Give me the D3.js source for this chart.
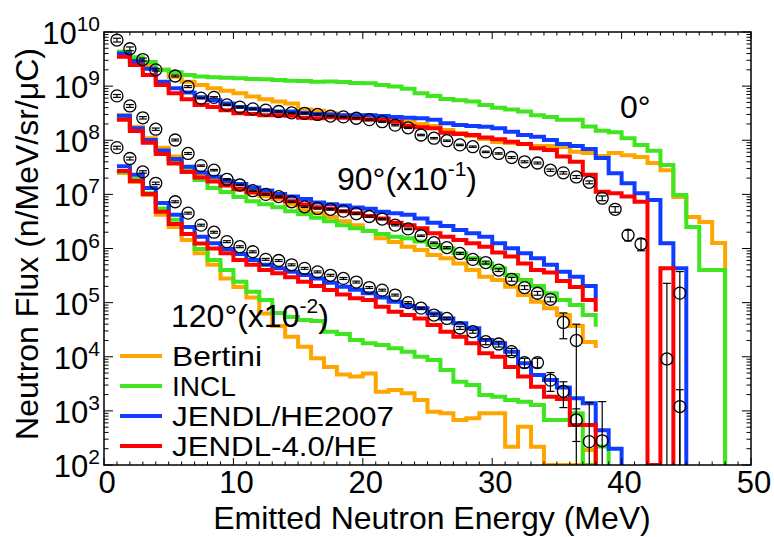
<!DOCTYPE html>
<html>
<head>
<meta charset="utf-8">
<script src="https://cdn.jsdelivr.net/npm/d3@7"></script>
<style>
  body { margin: 0; background: #fff; }
  text { font-family: "Liberation Sans", Arial, Helvetica, sans-serif; fill: #000; }
</style>
</head>
<body>
<div id="chart"></div>
<script>
// simulated spectra, 1 MeV bins starting at 1 MeV (last entry = level the line drops to)
var binStart = 1;

// 0 deg
var bertini0 = [4.3e9, 3.0e9, 2.45e9, 2.0e9, 1.49e9, 1.21e9, 1.05e9, 9.1e8, 8.2e8, 7.4e8, 6.4e8, 5.7e8, 5.2e8, 4.8e8, 3.7e8, 3.5e8, 3.15e8, 2.9e8, 2.8e8, 2.8e8, 2.7e8, 2.6e8, 2.2e8, 2.0e8, 1.83e8, 1.55e8, 1.36e8, 1.20e8, 1.05e8, 9.3e7, 8.9e7, 8.5e7, 7.8e7, 7.8e7, 7.5e7, 6.1e7, 5.8e7, 5.1e7, 5.8e7, 5.3e7, 4.9e7, 3.8e7, 2.8e7, 8.9e6, 3.8e6, 3.1e6, 1.26e6, 0];
var incl0 = [4.3e9, 3.4e9, 2.8e9, 2.0e9, 1.8e9, 1.6e9, 1.5e9, 1.46e9, 1.43e9, 1.40e9, 1.36e9, 1.34e9, 1.30e9, 1.26e9, 1.24e9, 1.21e9, 1.22e9, 1.19e9, 1.14e9, 1.13e9, 1.05e9, 9.8e8, 8.9e8, 7.4e8, 6.6e8, 5.8e8, 5.5e8, 5.2e8, 4.5e8, 4.0e8, 3.7e8, 3.4e8, 2.9e8, 2.7e8, 2.4e8, 2.4e8, 1.8e8, 1.5e8, 1.4e8, 1.09e8, 8.2e7, 6.4e7, 3.5e7, 9.7e6, 2.5e6, 4.0e5, 4.0e5, 0];
var jendlHE0 = [4.0e9, 2.9e9, 2.1e9, 1.21e9, 9.1e8, 7.6e8, 6.2e8, 5.5e8, 4.8e8, 4.1e8, 3.8e8, 3.6e8, 3.4e8, 3.4e8, 3.2e8, 3.05e8, 3.0e8, 2.9e8, 2.9e8, 2.9e8, 2.8e8, 2.7e8, 2.6e8, 2.55e8, 2.4e8, 2.06e8, 1.91e8, 1.83e8, 1.78e8, 1.66e8, 1.44e8, 1.25e8, 1.16e8, 1.01e8, 8.5e7, 7.8e7, 6.9e7, 4.7e7, 2.45e7, 1.60e7, 1.05e7, 7.9e6, 1.25e6, 4.3e5, 0];
var jendl40_0 = [3.5e9, 2.45e9, 1.61e9, 1.05e9, 7.4e8, 5.7e8, 4.5e8, 4.1e8, 3.6e8, 3.15e8, 3.05e8, 2.9e8, 2.9e8, 2.84e8, 2.6e8, 2.55e8, 2.65e8, 2.6e8, 2.55e8, 2.4e8, 2.37e8, 2.2e8, 1.83e8, 1.73e8, 1.66e8, 1.38e8, 1.30e8, 1.25e8, 1.13e8, 1.04e8, 9.4e7, 8.5e7, 7.1e7, 6.6e7, 5.0e7, 4.0e7, 2.3e7, 1.12e7, 1.05e7, 9.1e6, 7.3e6, 0, 4.3e5, 0];

// 90 deg (x 0.1)
var bertini90 = [2.9e8, 1.76e8, 1.09e8, 7.3e7, 5.0e7, 3.2e7, 2.3e7, 1.90e7, 1.55e7, 1.20e7, 1.06e7, 9.3e6, 8.2e6, 6.6e6, 5.1e6, 4.5e6, 3.8e6, 3.2e6, 2.7e6, 2.1e6, 1.54e6, 1.32e6, 1.08e6, 9.4e5, 7.6e5, 6.6e5, 5.3e5, 4.0e5, 3.0e5, 2.62e5, 1.97e5, 1.38e5, 1.04e5, 7.9e4, 5.9e4, 3.7e4, 1.87e4, 1.45e4];
var incl90 = [2.58e8, 1.55e8, 9.7e7, 6.1e7, 3.96e7, 2.7e7, 1.84e7, 1.31e7, 1.11e7, 8.9e6, 7.5e6, 6.6e6, 5.8e6, 4.9e6, 4.3e6, 3.7e6, 3.2e6, 2.7e6, 2.36e6, 2.1e6, 1.85e6, 1.65e6, 1.54e6, 1.34e6, 1.16e6, 1.01e6, 8.2e5, 6.6e5, 5.3e5, 4.3e5, 3.24e5, 2.62e5, 2.03e5, 1.49e5, 1.12e5, 9.0e4, 5.9e4, 3.6e4];
var jendlHE90 = [2.84e8, 1.66e8, 1.01e8, 6.5e7, 4.5e7, 3.25e7, 2.54e7, 2.12e7, 1.77e7, 1.55e7, 1.34e7, 1.18e7, 1.02e7, 9.1e6, 8.2e6, 7.1e6, 6.6e6, 6.2e6, 5.7e6, 5.4e6, 4.8e6, 4.5e6, 4.2e6, 3.6e6, 3.0e6, 2.6e6, 2.2e6, 1.91e6, 1.65e6, 1.25e6, 1.01e6, 8.2e5, 6.6e5, 5.0e5, 3.7e5, 3.0e5, 2.03e5, 1.20e5];
var jendl40_90 = [2.4e8, 1.48e8, 9.0e7, 5.6e7, 3.7e7, 2.59e7, 2.05e7, 1.73e7, 1.46e7, 1.26e7, 1.10e7, 1.02e7, 8.9e6, 7.5e6, 6.5e6, 5.8e6, 5.4e6, 4.9e6, 4.5e6, 4.0e6, 3.6e6, 3.0e6, 2.7e6, 2.36e6, 1.91e6, 1.65e6, 1.44e6, 1.25e6, 1.08e6, 8.4e5, 7.1e5, 5.3e5, 4.0e5, 3.6e5, 2.5e5, 1.94e5, 1.12e5, 6.8e4];

// 120 deg (x 0.01)
var bertini120 = [2.48e7, 1.69e7, 9.7e6, 4.2e6, 2.5e6, 1.44e6, 8.2e5, 5.0e5, 2.8e5, 1.94e5, 1.25e5, 6.3e4, 3.7e4, 2.35e4, 1.53e4, 9.4e3, 6.5e3, 4.7e3, 4.3e3, 4.9e3, 2.26e3, 2.43e3, 2.11e3, 1.59e3, 965, 900, 680, 730, 900, 900, 218, 510, 218, 0, 0, 0, 190, 0];
var incl120 = [2.59e7, 1.92e7, 1.05e7, 5.5e6, 3.4e6, 1.85e6, 9.8e5, 6.1e5, 4.0e5, 2.44e5, 1.59e5, 1.12e5, 6.4e4, 5.4e4, 4.8e4, 4.6e4, 2.9e4, 2.63e4, 2.04e4, 1.77e4, 1.65e4, 1.43e4, 1.24e4, 1.0e4, 8.7e3, 5.7e3, 3.46e3, 3.0e3, 1.96e3, 1.83e3, 1.59e3, 1.48e3, 1.28e3, 680, 680, 900, 0, 220, 0];
var jendlHE120 = [3.3e7, 2.3e7, 1.31e7, 6.9e6, 4.2e6, 2.5e6, 1.65e6, 1.25e6, 9.8e5, 7.9e5, 6.1e5, 5.0e5, 4.3e5, 3.7e5, 3.24e5, 2.8e5, 2.33e5, 1.97e5, 1.73e5, 1.49e5, 1.25e5, 1.04e5, 8.7e4, 7.9e4, 6.3e4, 5.1e4, 4.15e4, 3.35e4, 2.04e4, 1.77e4, 1.24e4, 7.6e3, 4.6e3, 3.7e3, 2.7e3, 1.71e3, 1.38e3, 440, 200, 0];
var jendl40_120 = [2.7e7, 1.77e7, 1.02e7, 4.8e6, 2.84e6, 1.85e6, 1.24e6, 1.0e6, 8.2e5, 6.1e5, 5.0e5, 4.0e5, 3.5e5, 2.94e5, 2.44e5, 2.03e5, 1.71e5, 1.41e5, 1.20e5, 1.12e5, 8.4e4, 6.8e4, 5.9e4, 5.1e4, 3.86e4, 2.9e4, 2.35e4, 1.77e4, 1.16e4, 1.0e4, 6.5e3, 4.3e3, 2.8e3, 1.83e3, 1.66e3, 550, 550, 0];

// measured points (energy, flux, relative error)
var expE0 = [1, 2, 3, 4, 5.5, 6.5, 7.5, 8.5, 9.5, 10.5, 11.5, 12.5, 13.5, 14.5, 15.5, 16.5, 17.5, 18.5, 19.5, 20.5, 21.5, 22.5, 23.5, 24.5, 25.5, 26.5, 27.5, 28.5, 29.5, 30.5, 31.5, 32.5, 33.5, 34.5, 35.5, 36.5, 37.5, 38.5, 39.5, 40.5, 41.5, 43.5, 44.5];
var expFlux0 = [7.1e9, 4.9e9, 3.1e9, 2.0e9, 1.54e9, 9.8e8, 6.0e8, 6.2e8, 4.5e8, 4.1e8, 3.8e8, 3.6e8, 3.4e8, 3.2e8, 3.15e8, 3.0e8, 2.8e8, 2.7e8, 2.55e8, 2.4e8, 2.2e8, 1.9e8, 1.7e8, 1.25e8, 1.09e8, 9.8e7, 8.2e7, 7.6e7, 6.1e7, 5.7e7, 4.8e7, 4.0e7, 3.8e7, 2.8e7, 2.5e7, 2.1e7, 1.67e7, 8.5e6, 5.3e6, 1.77e6, 1.21e6, 9.1e3, 1.5e5];
var expErr0 = [0.08, 0.08, 0.06, 0.05, 0.04, 0.04, 0.03, 0.03, 0.03, 0.03, 0.03, 0.03, 0.03, 0.03, 0.03, 0.03, 0.03, 0.03, 0.03, 0.03, 0.03, 0.03, 0.03, 0.03, 0.03, 0.03, 0.03, 0.03, 0.03, 0.03, 0.04, 0.04, 0.04, 0.05, 0.05, 0.06, 0.06, 0.1, 0.12, 0.22, 0.25, 24, 1.5];

var expE90 = [1, 2, 3, 4, 5.5, 6.5, 7.5, 8.5, 9.5, 10.5, 11.5, 12.5, 13.5, 14.5, 15.5, 16.5, 17.5, 18.5, 19.5, 20.5, 21.5, 22.5, 23.5, 24.5, 25.5, 26.5, 27.5, 28.5, 29.5, 30.5, 31.5, 32.5, 33.5, 34.5, 35.5, 36.5, 44.5];
var expFlux90 = [6.6e8, 4.3e8, 2.6e8, 1.6e8, 1.01e8, 5.7e7, 3.4e7, 2.8e7, 1.9e7, 1.49e7, 1.17e7, 1.0e7, 9.1e6, 7.3e6, 5.9e6, 5.5e6, 5.3e6, 4.9e6, 4.4e6, 3.9e6, 3.5e6, 2.7e6, 2.3e6, 1.72e6, 1.28e6, 1.04e6, 8.1e5, 6.3e5, 5.5e5, 4.0e5, 2.7e5, 1.9e5, 1.49e5, 1.15e5, 4.3e4, 2.0e4, 1.2e3];
var expErr90 = [0.06, 0.06, 0.05, 0.05, 0.04, 0.04, 0.03, 0.03, 0.03, 0.03, 0.03, 0.03, 0.03, 0.03, 0.03, 0.03, 0.03, 0.03, 0.03, 0.03, 0.03, 0.03, 0.03, 0.03, 0.03, 0.04, 0.04, 0.04, 0.06, 0.06, 0.08, 0.08, 0.08, 0.1, 0.5, 1.0, 1.05];

var expE120 = [1, 2, 3, 4, 5.5, 6.5, 7.5, 8.5, 9.5, 10.5, 11.5, 12.5, 13.5, 14.5, 15.5, 16.5, 17.5, 18.5, 19.5, 20.5, 21.5, 22.5, 23.5, 24.5, 25.5, 26.5, 27.5, 28.5, 29.5, 30.5, 31.5, 32.5, 33.5, 34.5, 35.5, 36.5, 37.5, 38.5];
var expFlux120 = [7.3e7, 4.6e7, 2.6e7, 1.6e7, 7.3e6, 4.5e6, 2.7e6, 2.0e6, 1.34e6, 1.08e6, 8.7e5, 6.3e5, 6.0e5, 5.0e5, 4.3e5, 3.7e5, 3.2e5, 2.8e5, 2.4e5, 1.9e5, 1.7e5, 1.38e5, 1.0e5, 7.9e4, 5.9e4, 5.1e4, 3.4e4, 2.9e4, 1.9e4, 1.72e4, 1.24e4, 7.8e3, 7.8e3, 3.7e3, 2.3e3, 680, 270, 280];
var expErr120 = [0.06, 0.06, 0.05, 0.05, 0.04, 0.04, 0.04, 0.04, 0.04, 0.04, 0.04, 0.04, 0.04, 0.04, 0.04, 0.04, 0.04, 0.04, 0.04, 0.04, 0.04, 0.04, 0.04, 0.04, 0.05, 0.05, 0.06, 0.06, 0.12, 0.12, 0.15, 0.2, 0.2, 0.38, 0.5, 0.6, 4.3, 4.3];

var models = ["Bertini", "INCL", "JENDL/HE2007", "JENDL-4.0/HE"];
var colors = ["#ffa500", "#3fe620", "#0f3cff", "#ff0000"];
var xTicks = [0, 10, 20, 30, 40, 50];
var yExponents = [2, 3, 4, 5, 6, 7, 8, 9, 10];

var width = 774, height = 537;
var plotL = 104, plotR = 751, plotT = 32, plotB = 465;

var svg = d3.select("#chart").append("svg")
  .attr("width", width)
  .attr("height", height);

var xScale = d3.scaleLinear().domain([0, 50]).range([plotL, plotR]);
var yScale = d3.scaleLog().domain([1e2, 1e10]).range([plotB, plotT]);

svg.append("clipPath").attr("id", "plotclip")
  .append("rect")
  .attr("x", plotL).attr("y", plotT)
  .attr("width", plotR - plotL).attr("height", plotB - plotT);

var yv = function (v) { return v > 0 ? yScale(Math.max(v, 1e2)) : plotB; };

var histLine = d3.line()
  .x(d => xScale(d[0]))
  .y(d => yv(d[1]))
  .curve(d3.curveStepAfter);

var plot = svg.append("g").attr("clip-path", "url(#plotclip)");

var groups = [
  [bertini0, incl0, jendlHE0, jendl40_0],
  [bertini90, incl90, jendlHE90, jendl40_90],
  [bertini120, incl120, jendlHE120, jendl40_120]
];

// draw by model so red ends on top
for (var m = 0; m < 4; m++) {
  groups.forEach(function (g) {
    var pts = g[m].map((v, i) => [binStart + i, v]);
    plot.append("path")
      .attr("d", histLine(pts))
      .attr("fill", "none")
      .attr("stroke", colors[m])
      .attr("stroke-width", 4)
      .attr("stroke-linejoin", "miter");
  });
}

// measured points
var expSets = [
  [expE0, expFlux0, expErr0],
  [expE90, expFlux90, expErr90],
  [expE120, expFlux120, expErr120]
];

expSets.forEach(function (s) {
  var pts = s[0].map((e, i) => ({ e: e, v: s[1][i], err: s[2][i] * s[1][i] }));
  var g = plot.append("g").selectAll("g").data(pts).enter().append("g");
  g.append("line")
    .attr("x1", d => xScale(d.e)).attr("x2", d => xScale(d.e))
    .attr("y1", d => yv(d.v + d.err))
    .attr("y2", d => (d.v - d.err) > 0 ? yv(d.v - d.err) : plotB)
    .attr("stroke", "#000").attr("stroke-width", 1.2);
  g.append("line")
    .attr("x1", d => xScale(d.e) - 4).attr("x2", d => xScale(d.e) + 4)
    .attr("y1", d => yv(d.v + d.err)).attr("y2", d => yv(d.v + d.err))
    .attr("stroke", "#000").attr("stroke-width", 1.2);
  g.filter(d => d.v - d.err > 1e2).append("line")
    .attr("x1", d => xScale(d.e) - 4).attr("x2", d => xScale(d.e) + 4)
    .attr("y1", d => yv(d.v - d.err)).attr("y2", d => yv(d.v - d.err))
    .attr("stroke", "#000").attr("stroke-width", 1.2);
  g.append("circle")
    .attr("cx", d => xScale(d.e)).attr("cy", d => yv(d.v))
    .attr("r", 6)
    .attr("fill", "none")
    .attr("stroke", "#000").attr("stroke-width", 1.3);
});

// frame and ticks
var axes = svg.append("g").attr("stroke", "#000").attr("stroke-width", 1);
var xMinor = d3.range(0, 51, 1);
xMinor.forEach(function (t) {
  var len = t % 10 === 0 ? 7 : 3.5;
  axes.append("line").attr("x1", xScale(t)).attr("x2", xScale(t)).attr("y1", plotB).attr("y2", plotB - len);
  axes.append("line").attr("x1", xScale(t)).attr("x2", xScale(t)).attr("y1", plotT).attr("y2", plotT + len);
});
yExponents.forEach(function (p) {
  var base = Math.pow(10, p);
  axes.append("line").attr("x1", plotL).attr("x2", plotL + 9).attr("y1", yScale(base)).attr("y2", yScale(base));
  axes.append("line").attr("x1", plotR).attr("x2", plotR - 9).attr("y1", yScale(base)).attr("y2", yScale(base));
  if (p < 10) {
    for (var k = 2; k <= 9; k++) {
      var yy = yScale(k * base);
      axes.append("line").attr("x1", plotL).attr("x2", plotL + 4.5).attr("y1", yy).attr("y2", yy);
      axes.append("line").attr("x1", plotR).attr("x2", plotR - 4.5).attr("y1", yy).attr("y2", yy);
    }
  }
});
svg.append("rect")
  .attr("x", plotL).attr("y", plotT)
  .attr("width", plotR - plotL).attr("height", plotB - plotT)
  .attr("fill", "none").attr("stroke", "#000").attr("stroke-width", 1.5);

// tick labels
svg.append("g").selectAll("text").data(xTicks).enter().append("text")
  .attr("x", d => xScale(d) + 3)
  .attr("y", plotB + 28)
  .attr("text-anchor", "middle")
  .attr("font-size", 31)
  .text(d => d);

svg.append("g").selectAll("text").data(yExponents).enter().append("text")
  .attr("x", 100)
  .attr("y", d => yScale(Math.pow(10, d)) + 12)
  .attr("text-anchor", "end")
  .attr("font-size", 31)
  .each(function (d) {
    var t = d3.select(this);
    t.append("tspan").text("10");
    t.append("tspan").attr("dy", -13).attr("font-size", 21).text(d);
  });

// axis titles
svg.append("text")
  .attr("x", 432).attr("y", 529)
  .attr("text-anchor", "middle")
  .attr("font-size", 32)
  .text("Emitted Neutron Energy (MeV)");

svg.append("text")
  .attr("transform", "translate(38,244) rotate(-90)")
  .attr("text-anchor", "middle")
  .attr("font-size", 32)
  .text("Neutron Flux (n/MeV/sr/\u03bcC)");

// angle labels
function angleLabel(x0, y0, main, sup) {
  var t = svg.append("text").attr("x", x0).attr("y", y0).attr("font-size", 32);
  t.append("tspan").text(main);
  if (sup) {
    t.append("tspan").attr("dy", -14).attr("font-size", 21).text(sup);
    t.append("tspan").attr("dy", 14).text(")");
  }
}
angleLabel(620, 118, "0\u00b0");
angleLabel(337, 190, "90\u00b0(x10", "-1");
angleLabel(171, 327, "120\u00b0(x10", "-2");

// legend
var legendY = [356, 386, 416, 446];
var legend = svg.append("g").selectAll("g").data(models).enter().append("g");
legend.append("line")
  .attr("x1", 120).attr("x2", 162)
  .attr("y1", (d, i) => legendY[i]).attr("y2", (d, i) => legendY[i])
  .attr("stroke", (d, i) => colors[i]).attr("stroke-width", 4);
legend.append("text")
  .attr("x", 172).attr("y", (d, i) => legendY[i] + 10)
  .attr("font-size", 28.5)
  .attr("textLength", (d, i) => [90, 64, 222, 205][i])
  .attr("lengthAdjust", "spacingAndGlyphs")
  .text(d => d);
</script>
</body>
</html>
